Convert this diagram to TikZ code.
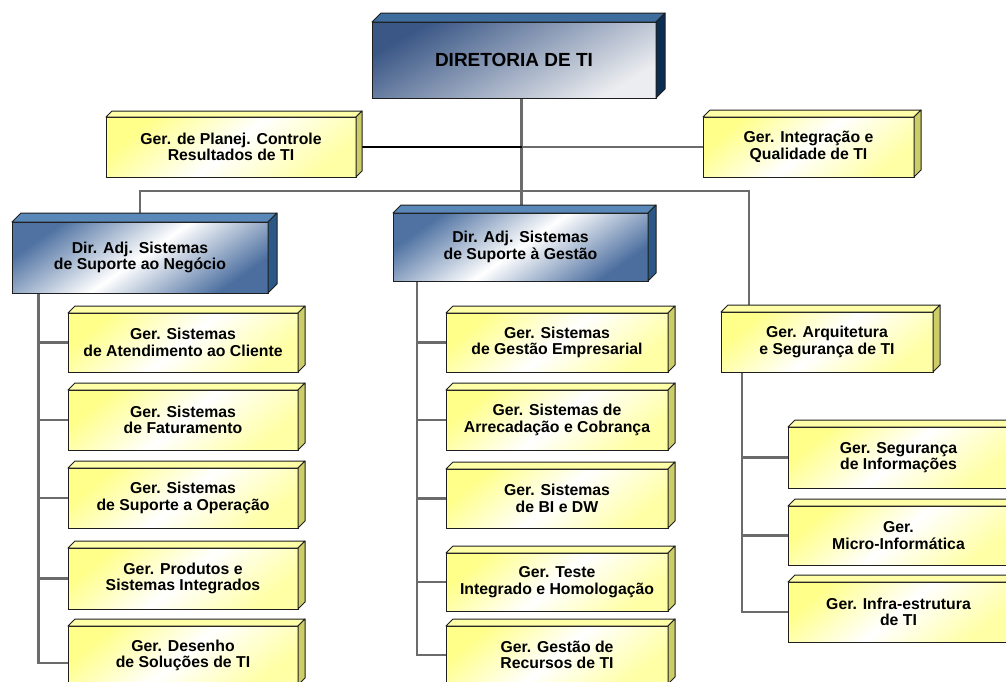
\documentclass[tikz,border=0pt]{standalone}
\usepackage{fontspec}
\setmainfont{Liberation Sans}
\usetikzlibrary{backgrounds}

\definecolor{edge}{HTML}{1E1E1E}
\definecolor{wirec}{HTML}{6B6B6B}
% yellow boxes
\definecolor{yfa}{HTML}{FFFF8A}
\definecolor{yfb}{HTML}{FFFFA6}
\definecolor{ytopc}{HTML}{FFFFA8}
\definecolor{ysidec}{HTML}{CDCD68}
% head box
\definecolor{dfa}{HTML}{3A5786}
\definecolor{dfb}{HTML}{ECEDF0}
\definecolor{dtopc}{HTML}{3E6C9C}
\definecolor{dsidec}{HTML}{0C2D52}
% deputy boxes
\definecolor{bfa}{HTML}{4F72A2}
\definecolor{bfb}{HTML}{4B6E9F}
\definecolor{btopc}{HTML}{5A89B9}
\definecolor{bsidec}{HTML}{2B5887}

% #1 name, #2 style prefix, #3 left, #4 top, #5 width, #6 height, #7 depth, #8 text
\newcommand\cuboid[8]{%
  \node[#2box, minimum width=#5pt, minimum height=#6pt, anchor=north west] (#1) at (#3,#4) {#8};
  \filldraw[#2top] (#1.north west) -- ++(#7,-#7) -- ([shift={(#7,-#7)}]#1.north east) -- (#1.north east) -- cycle;
  \filldraw[#2side] (#1.north east) -- ++(#7,-#7) -- ([shift={(#7,-#7)}]#1.south east) -- (#1.south east) -- cycle;
}

\begin{document}
\begin{tikzpicture}[x=1pt,y=-1pt,
  boxbase/.style={draw=edge, line width=1pt, outer sep=0pt, inner sep=0pt, align=center,
    font=\bfseries\fontsize{15.8}{16.5}\selectfont},
  ybox/.style={boxbase, top color=yfa, bottom color=yfb, middle color=white, shading angle=40},
  ytop/.style={draw=edge, line width=1pt, line join=round, fill=ytopc},
  yside/.style={draw=edge, line width=1pt, line join=round, fill=ysidec},
  dbox/.style={boxbase, top color=dfa, bottom color=dfb, shading angle=30,
    font=\bfseries\fontsize{19}{20}\selectfont},
  dtop/.style={draw=edge, line width=1pt, line join=round, fill=dtopc},
  dside/.style={draw=edge, line width=1pt, line join=round, fill=dsidec},
  bbox/.style={boxbase, top color=bfa, bottom color=bfb, middle color=white, shading angle=35},
  btop/.style={draw=edge, line width=1pt, line join=round, fill=btopc},
  bside/.style={draw=edge, line width=1pt, line join=round, fill=bsidec},
  wire/.style={draw=wirec, line width=2.6pt},
  wireblack/.style={draw=black, line width=2.4pt}]
\useasboundingbox (0,0) rectangle (1006,681);
\clip (0,0) rectangle (1006,681);

% top level
\cuboid{dir}{d}{372}{22}{284}{76}{9}{DIRETORIA DE TI}
\cuboid{planej}{y}{106}{117}{250}{60}{6}{Ger. de Planej. Controle\\Resultados de TI}
\cuboid{integ}{y}{703}{117}{211}{60}{7}{Ger. Integração e\\Qualidade de TI}

% deputy directorates and architecture
\cuboid{da1}{b}{12}{222}{256}{71}{9}{Dir. Adj. Sistemas\\de Suporte ao Negócio}
\cuboid{da2}{b}{393}{213}{255}{68}{8}{Dir. Adj. Sistemas\\de Suporte à Gestão}
\cuboid{arq}{y}{721}{312}{212}{60}{7}{Ger. Arquitetura\\e Segurança de TI}

% first column
\cuboid{c11}{y}{68}{313}{230}{59}{7}{Ger. Sistemas\\de Atendimento ao Cliente}
\cuboid{c12}{y}{68}{390}{230}{60}{7}{Ger. Sistemas\\de Faturamento}
\cuboid{c13}{y}{68}{468}{230}{60}{7}{Ger. Sistemas\\de Suporte a Operação}
\cuboid{c14}{y}{68}{548}{230}{61}{7}{Ger. Produtos e\\Sistemas Integrados}
\cuboid{c15}{y}{68}{626}{230}{59}{7}{Ger. Desenho\\de Soluções de TI}

% second column
\cuboid{c21}{y}{446}{313}{222}{59}{7}{Ger. Sistemas\\de Gestão Empresarial}
\cuboid{c22}{y}{446}{390}{222}{60}{7}{Ger. Sistemas de\\Arrecadação e Cobrança}
\cuboid{c23}{y}{446}{469}{222}{59}{7}{Ger. Sistemas\\de BI e DW}
\cuboid{c24}{y}{446}{553}{222}{58}{7}{Ger. Teste\\Integrado e Homologação}
\cuboid{c25}{y}{446}{626}{222}{58}{7}{Ger. Gestão de\\Recursos de TI}

% third column
\cuboid{r1}{y}{788}{427}{221}{61}{7}{Ger. Segurança\\de Informações}
\cuboid{r2}{y}{788}{506}{221}{59}{7}{Ger.\\Micro-Informática}
\cuboid{r3}{y}{788}{582}{221}{60}{7}{Ger. Infra-estrutura\\de TI}

% connectors
\begin{pgfonlayer}{background}
  \coordinate (trunk) at (521.7,191);
  \coordinate (busL) at (140,191);
  \coordinate (busR) at (749,191);
  \coordinate (sp1) at (38.3,0);
  \coordinate (sp2) at (417,0);
  \coordinate (sp3) at (742,0);
  \draw[wire] (trunk |- dir.south) -- (trunk |- da2.north);
  \draw[wire] (busL |- da1.north) -- (busL) -- (busR) -- (busR |- arq.north);
  \draw[wireblack] (planej.east) -- (trunk |- planej.east);
  \draw[wire] (trunk |- integ.west) -- (integ.west);
  % first column
  \draw[wire] (sp1 |- da1.south) |- ([yshift=-7.5pt]c15.west);
  \foreach \n in {c11,c12,c13,c14} \draw[wire] (sp1 |- \n.west) -- (\n.west);
  % second column
  \draw[wire] (sp2 |- da2.south) |- (c25.west);
  \foreach \n in {c21,c22,c23,c24} \draw[wire] (sp2 |- \n.west) -- (\n.west);
  % third column
  \draw[wire] (sp3 |- arq.south) |- (r3.west);
  \foreach \n in {r1,r2} \draw[wire] (sp3 |- \n.west) -- (\n.west);
\end{pgfonlayer}
\end{tikzpicture}
\end{document}
